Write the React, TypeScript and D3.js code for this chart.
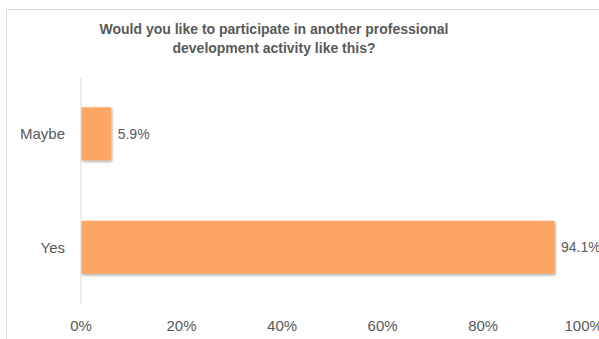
import React from "react";
import * as d3 from "d3";

const categories = ["Maybe", "Yes"];
const values = [5.9, 94.1];
const tickValues = [0, 20, 40, 60, 80, 100];
const titleLines = [
  "Would you like to participate in another professional",
  "development activity like this?",
];

export default function App() {
  const W = 599, H = 339;
  const x = d3.scaleLinear().domain([0, 100]).range([81, 583.7]);
  const y = d3.scaleBand().domain(categories).range([77, 304]).paddingInner(0.533).paddingOuter(0.2665);
  const font = "'Liberation Sans', Arial, sans-serif";
  const gray = "#595959";
  return (
    <svg width={W} height={H} style={{ position: "fixed", left: 0, top: 0, background: "#fff" }}>
      <defs>
        <filter id="sh" x="-10%" y="-10%" width="130%" height="140%">
          <feDropShadow dx="1" dy="1.5" stdDeviation="1" floodColor="#000" floodOpacity="0.35" />
        </filter>
      </defs>
      <rect x={6.5} y={9.5} width={W} height={H} fill="#fff" stroke="#d9d9d9" strokeWidth={1} />
      {titleLines.map((t, i) => (
        <text key={i} x={274} y={33.5 + i * 19} textAnchor="middle" fontFamily={font} fontWeight="bold" fontSize={14} fill={gray}>
          {t}
        </text>
      ))}
      <line x1={x(0)} x2={x(0)} y1={77} y2={304} stroke="#d9d9d9" strokeWidth={1} />
      {categories.map((c, i) => (
        <g key={c}>
          <rect x={x(0) + 0.5} y={y(c)!} width={x(values[i]) - x(0)} height={y.bandwidth()} fill="#FDA564" filter="url(#sh)" />
          <text x={x(values[i]) + 7} y={y(c)! + y.bandwidth() / 2} dy="0.35em" fontFamily={font} fontSize={14} fill={gray}>
            {values[i].toFixed(1)}%
          </text>
          <text x={65} y={y(c)! + y.bandwidth() / 2} dy="0.35em" textAnchor="end" fontFamily={font} fontSize={15} fill={gray}>
            {c}
          </text>
        </g>
      ))}
      {tickValues.map((t) => (
        <text key={t} x={x(t)} y={326} dy="0.35em" textAnchor="middle" fontFamily={font} fontSize={15} fill={gray}>
          {t}%
        </text>
      ))}
    </svg>
  );
}
